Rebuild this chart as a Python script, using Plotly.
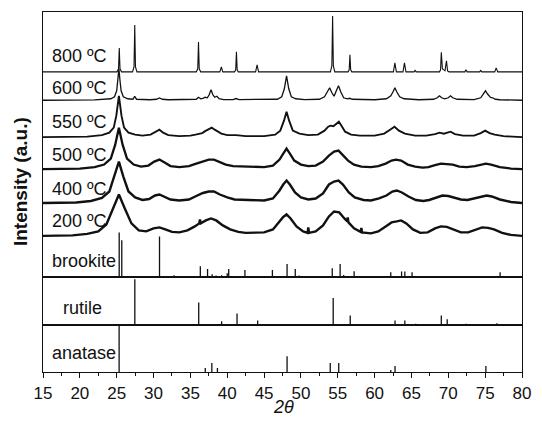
import plotly.graph_objects as go
from plotly.subplots import make_subplots

# ---------------- data ----------------
# sample labels and vertical stacking offsets (top panel units)
sample_labels = ["800 ºC", "600 ºC", "550 ºC", "500 ºC", "400 ºC", "200 ºC"]
sample_offsets = [206, 177, 140, 108, 74, 41]

# measured patterns: (2theta, intensity above own baseline)
pts800 = [(15, 0), (25.05, 0), (25.25, 3), (25.35, 24), (25.45, 3), (25.65, 0),
          (27.15, 0), (27.35, 5), (27.45, 47), (27.55, 5), (27.75, 0),
          (35.8, 0), (36.0, 3), (36.1, 30), (36.2, 3), (36.4, 0),
          (39.0, 0), (39.2, 5), (39.4, 0),
          (41.0, 0), (41.15, 2), (41.25, 20), (41.35, 2), (41.5, 0),
          (43.85, 0), (44.05, 7), (44.25, 0),
          (54.0, 0), (54.2, 6), (54.3, 56), (54.4, 6), (54.6, 0),
          (56.4, 0), (56.55, 2), (56.65, 17), (56.75, 2), (56.9, 0),
          (62.55, 0), (62.75, 9), (62.95, 0),
          (63.85, 0), (64.05, 9), (64.25, 0),
          (65.35, 0), (65.5, 1.5), (65.65, 0),
          (68.8, 0), (68.95, 2), (69.05, 19.5), (69.2, 3), (69.55, 1), (69.75, 11), (69.9, 1), (70.1, 0),
          (72.25, 0), (72.4, 2), (72.55, 0),
          (74.25, 0), (74.4, 1.5), (74.55, 0),
          (76.3, 0), (76.5, 4), (76.7, 0), (80, 0)]

pts600 = [(15, 0.5), (22, 0.8), (24.2, 2), (24.7, 4), (25.0, 10), (25.15, 20), (25.3, 32), (25.45, 20),
          (25.6, 10), (25.9, 4), (26.5, 2), (27.2, 1.5), (27.35, 3), (27.45, 4.5), (27.55, 3), (27.7, 1.5),
          (29.5, 1), (30.4, 1.5), (30.8, 2.8), (31.2, 1.5), (32, 1), (35, 1), (35.8, 1.5), (36.1, 3.5),
          (36.4, 2), (36.7, 2.5), (37.0, 3.5), (37.3, 3), (37.55, 6), (37.8, 11), (38.05, 6), (38.3, 3.5),
          (38.6, 4.5), (38.9, 2), (39.5, 1.2), (40.8, 1.2), (41.2, 2.2), (41.6, 1.2), (45, 1), (46.8, 1.5),
          (47.4, 4), (47.75, 12), (48.05, 25), (48.35, 12), (48.7, 4), (49.3, 2), (50.5, 1.2), (52.5, 1.5),
          (53.2, 4), (53.6, 9), (53.9, 13), (54.2, 8), (54.5, 4.5), (54.8, 10), (55.1, 15), (55.4, 9),
          (55.8, 3), (56.3, 2), (56.6, 2.5), (57, 1.5), (60, 1), (61.6, 2), (62.2, 5), (62.5, 9),
          (62.75, 13), (63.0, 9), (63.4, 4), (64, 2), (66, 1), (68.0, 1.5), (68.5, 3), (68.8, 5),
          (69.1, 3), (69.5, 2), (70.0, 3), (70.3, 5), (70.6, 3), (71.2, 1.5), (73.5, 1.2), (74.4, 3),
          (74.8, 7), (75.05, 10), (75.3, 7), (75.7, 3.5), (76.0, 3), (76.4, 1.5), (77, 1), (80, 0.5)]

pts550 = [(15, 0.5), (21, 1), (23, 2.5), (24, 5), (24.6, 10), (24.95, 22), (25.3, 42), (25.65, 22),
          (26.0, 10), (26.6, 5), (27.5, 3), (28.5, 2), (29.6, 3), (30.3, 5.5), (30.8, 8), (31.3, 5),
          (32, 2.5), (33.5, 1.5), (35, 2), (35.7, 3), (36.1, 3.5), (36.6, 4.5), (37.0, 6.5), (37.5, 8.5),
          (37.9, 10), (38.3, 8), (38.6, 6.5), (39.2, 4), (40, 2.5), (41.2, 2.5), (42.5, 1.5), (45, 1.5),
          (46.5, 3), (47.2, 7), (47.7, 17), (48.05, 26), (48.4, 17), (48.9, 7), (49.8, 4), (51, 2.5),
          (52.3, 3), (53.2, 7), (53.7, 11), (54.0, 12), (54.4, 11.5), (54.8, 14), (55.15, 16), (55.5, 12),
          (56.0, 6), (56.8, 3), (58, 2), (60, 2), (61.3, 4), (62.1, 8), (62.7, 11), (63.3, 7),
          (64.1, 4), (65.5, 2), (67, 2), (68.2, 3.5), (68.8, 5), (69.4, 4), (70.3, 6), (70.9, 3.5),
          (72, 2), (73.5, 2), (74.4, 4.5), (75.0, 7), (75.6, 4.5), (76.3, 3), (77.5, 1.5), (80, 0.5)]

pts500 = [(15, 0.5), (20, 1), (22, 2.5), (23.3, 5), (24.2, 11), (24.8, 25), (25.3, 42), (25.8, 25),
          (26.4, 11), (27.3, 5), (28.3, 3), (29.3, 4), (30.1, 8), (30.8, 10), (31.5, 7), (32.3, 3.5),
          (33.5, 2.5), (34.8, 3.5), (35.8, 6), (36.7, 8.5), (37.5, 10), (38.2, 10), (38.9, 8), (39.8, 5),
          (40.8, 3.5), (42, 3), (43.5, 2.5), (45, 2.5), (46.2, 4), (47.1, 10), (47.6, 16), (48.05, 21),
          (48.5, 16), (49.1, 9), (50, 5), (51, 3.5), (52, 4), (53, 8), (53.8, 14), (54.5, 18),
          (55.1, 19), (55.6, 15), (56.4, 9), (57.2, 5), (58.2, 3), (59.5, 2.5), (60.5, 3.5), (61.5, 6),
          (62.3, 9), (62.9, 10), (63.6, 9), (64.5, 5), (65.5, 3), (66.5, 2), (67.3, 2.5), (68.2, 4.5),
          (69.0, 6), (69.8, 5.5), (70.6, 5), (71.5, 3), (72.5, 2.5), (73.6, 3.5), (74.4, 5), (75.1, 6),
          (75.8, 5), (77, 2.5), (78.5, 1), (80, 0.5)]

pts400 = [(15, 0.5), (19.5, 1), (21.5, 2.5), (23, 5.5), (24, 12), (24.7, 27), (25.3, 42), (25.9, 27),
          (26.6, 12), (27.5, 6), (28.5, 3.5), (29.4, 4.5), (30.2, 8), (30.8, 9), (31.5, 7), (32.3, 4),
          (33.5, 3), (34.8, 4), (35.8, 7.5), (36.7, 10.5), (37.5, 12), (38.2, 12), (39, 9), (40, 6),
          (41, 4), (42.5, 3.5), (43.5, 3.5), (45, 3), (46.2, 5), (47.1, 13), (47.6, 19), (48.05, 23),
          (48.5, 19), (49.2, 11), (50, 6), (51, 4), (52, 5), (53, 10), (53.8, 19), (54.5, 22),
          (55.1, 23), (55.7, 19), (56.5, 11), (57.3, 6), (58.5, 3.5), (59.5, 3), (60.6, 5), (61.6, 8),
          (62.4, 12), (63.0, 13), (63.7, 11), (64.6, 7), (65.6, 3.5), (66.6, 2.5), (67.4, 3.5), (68.3, 6),
          (69.2, 8), (70, 7.5), (70.8, 6), (71.7, 4), (72.6, 3.5), (73.6, 5), (74.5, 7), (75.2, 8),
          (75.9, 7), (77, 4), (78.5, 1.5), (80, 0.5)]

pts200 = [(15, 0.5), (19, 1), (21, 2.5), (22.5, 5), (23.6, 12), (24.5, 28), (25.3, 42), (26.1, 28),
          (27, 13), (28, 6), (29, 5), (30, 8), (30.8, 9), (31.6, 7), (32.5, 4.5), (33.5, 4),
          (34.6, 6), (35.6, 10), (36.2, 13), (36.3, 17), (36.4, 13), (37.1, 16), (37.8, 18), (38.5, 16),
          (39.4, 11), (40.4, 7), (41.5, 4.5), (42.5, 3.5), (43.5, 3.5), (45, 4), (46.2, 7), (47.1, 15),
          (47.6, 19.5), (48.05, 22), (48.6, 18), (49.4, 10), (50.3, 5), (50.9, 3.5), (51.0, 9), (51.1, 3.5),
          (52.0, 5), (53, 11), (53.8, 20), (54.5, 25), (55.2, 24), (55.9, 18), (56.3, 15), (56.35, 19),
          (56.45, 14), (57.2, 8), (58.1, 4.5), (58.2, 8.5), (58.3, 4), (59.5, 3), (60.5, 5), (61.5, 10),
          (62.3, 14), (63, 15), (63.6, 16), (64.3, 13), (65.2, 7), (66.2, 3.5), (67.2, 4), (68.2, 8),
          (69, 10), (69.8, 9.5), (70.7, 7), (71.7, 4), (72.7, 4), (73.6, 6.5), (74.6, 9), (75.4, 8.5),
          (76.2, 7), (77.3, 3.5), (78.5, 1.5), (80, 0.5)]

sample_patterns = [pts800, pts600, pts550, pts500, pts400, pts200]
sample_widths = [1.1, 1.3, 1.9, 2.3, 2.4, 2.4]

# reference stick patterns
brookite_pos = [25.34, 25.69, 30.81, 32.79, 36.35, 37.33, 37.95, 38.48, 39.24, 40.0, 40.2, 42.4,
                46.13, 48.12, 49.23, 49.76, 52.12, 54.25, 55.32, 55.8, 57.22, 62.19, 63.66, 64.1, 65.08, 77.03]
brookite_int = [45, 37, 41, 2, 11, 8.3, 3, 1.7, 2, 4, 8.3, 7.3,
                7.3, 13.3, 8.3, 1.7, 1.3, 9, 13.3, 2.3, 6, 5, 5.7, 5.7, 5, 5]

rutile_pos = [27.46, 36.13, 39.24, 41.33, 44.13, 54.38, 56.69, 62.77, 64.1, 65.57, 69.05, 69.85, 72.45, 74.5, 76.6]
rutile_int = [46, 22.7, 4, 11.7, 4.7, 27.3, 9.7, 4.7, 4.7, 1.3, 9.6, 6, 1.5, 1, 2]

anatase_pos = [25.33, 37.02, 37.91, 38.67, 48.12, 53.98, 55.13, 62.19, 62.77, 75.1]
anatase_int = [47, 4, 9, 4, 15.7, 9, 9, 2, 6, 6]

x_ticks = [15, 20, 25, 30, 35, 40, 45, 50, 55, 60, 65, 70, 75, 80]

# ---------------- figure ----------------
FONT = "Liberation Sans, Arial, Helvetica, sans-serif"
INK = "#111111"

fig = make_subplots(rows=3, cols=1, shared_xaxes=True, vertical_spacing=0,
                    row_heights=[266, 48, 47])

for pts, off, w in zip(sample_patterns, sample_offsets, sample_widths):
    fig.add_trace(go.Scatter(x=[p[0] for p in pts], y=[p[1] + off for p in pts],
                             mode="lines", line=dict(color=INK, width=w),
                             hoverinfo="skip", showlegend=False), row=1, col=1)


def sticks(pos, hts):
    xs, ys = [], []
    for p, h in zip(pos, hts):
        xs += [p, p, None]
        ys += [0, h, None]
    return xs, ys


for (pos, hts), row in [((brookite_pos, brookite_int), 1),
                        ((rutile_pos, rutile_int), 2),
                        ((anatase_pos, anatase_int), 3)]:
    sx, sy = sticks(pos, hts)
    fig.add_trace(go.Scatter(x=sx, y=sy, mode="lines", line=dict(color=INK, width=1.3),
                             hoverinfo="skip", showlegend=False), row=row, col=1)

axis_common = dict(showline=True, mirror=True, linecolor=INK, linewidth=1.3,
                   showgrid=False, zeroline=False)

for r in (1, 2):
    fig.update_xaxes(range=[15, 80], ticks="", showticklabels=False, row=r, col=1, **axis_common)
fig.update_xaxes(range=[15, 80], tickmode="array", tickvals=x_ticks, ticks="outside",
                 ticklen=5, tickwidth=1.3, tickcolor=INK,
                 minor=dict(ticks="outside", ticklen=3, tickwidth=1.3, tickcolor=INK, dtick=2.5, tick0=15),
                 tickfont=dict(family=FONT, size=17, color=INK), row=3, col=1, **axis_common)

fig.update_yaxes(range=[0, 266], row=1, col=1)
fig.update_yaxes(range=[0, 48], row=2, col=1)
fig.update_yaxes(range=[0, 47], row=3, col=1)
fig.update_yaxes(ticks="", showticklabels=False, **axis_common)

# panel labels
label_font = dict(family=FONT, size=18, color=INK)
label_y = [222, 190, 156, 123, 89, 56]
for txt, yy in zip(sample_labels, label_y):
    fig.add_annotation(x=15.93, y=yy, xref="x", yref="y", text=txt, showarrow=False,
                       xanchor="left", yanchor="middle", font=label_font)
fig.add_annotation(x=15.93, y=16, xref="x", yref="y", text="brookite", showarrow=False,
                   xanchor="left", yanchor="middle", font=label_font)
fig.add_annotation(x=17.5, y=17, xref="x2", yref="y2", text="rutile", showarrow=False,
                   xanchor="left", yanchor="middle", font=label_font)
fig.add_annotation(x=15.93, y=19.5, xref="x3", yref="y3", text="anatase", showarrow=False,
                   xanchor="left", yanchor="middle", font=label_font)

# axis titles
fig.add_annotation(x=-0.047, y=0.529, xref="paper", yref="paper", text="<b>Intensity (a.u.)</b>",
                   textangle=-90, showarrow=False, xanchor="center", yanchor="middle",
                   font=dict(family=FONT, size=19, color=INK))
fig.add_annotation(x=0.502, y=-0.097, xref="paper", yref="paper", text="<i>2θ</i>",
                   showarrow=False, xanchor="center", yanchor="middle",
                   font=dict(family=FONT, size=18, color=INK))

fig.update_layout(width=542, height=422, margin=dict(l=43, r=11, t=11, b=50),
                  paper_bgcolor="white", plot_bgcolor="white", showlegend=False)

# remove the browser's default page margin so the 542x422 figure fills the window exactly
fig.write_html("out.html", config={"displayModeBar": False},
               post_script="document.body.style.margin='0';document.body.style.overflow='hidden';")
